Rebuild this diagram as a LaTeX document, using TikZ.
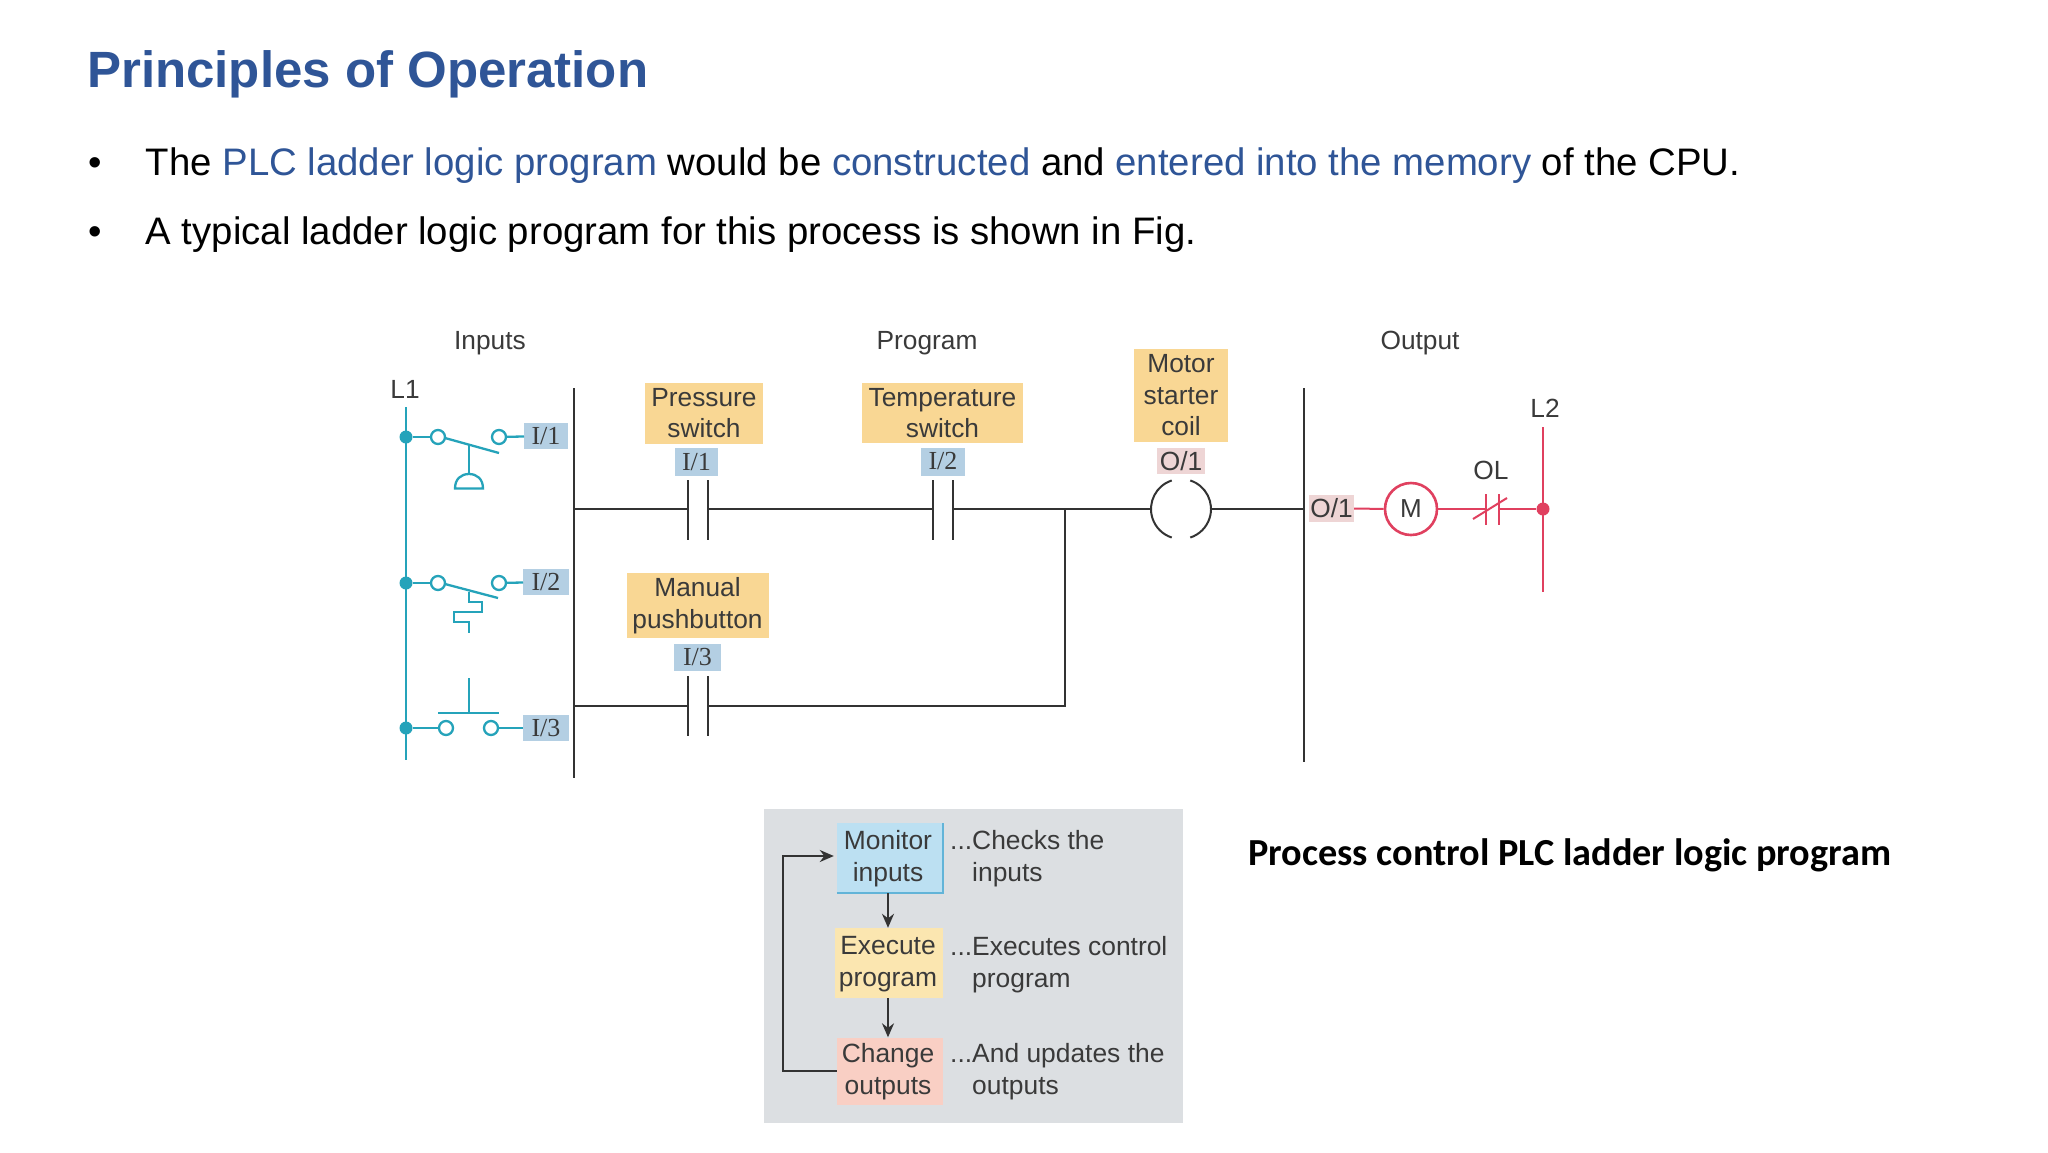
\documentclass[tikz,border=0pt]{standalone}
\usepackage{fontspec}
\setmainfont{Liberation Sans}
\newfontfamily\capfont{Carlito}
\newfontfamily\tagfont{Liberation Serif}
\usetikzlibrary{arrows.meta}
\definecolor{titleblue}{HTML}{2F5597}
\definecolor{inkblue}{HTML}{2F5597}
\definecolor{railteal}{HTML}{25A3BA}
\definecolor{wirered}{HTML}{E0405F}
\definecolor{labelorange}{HTML}{F9D794}
\definecolor{tagblue}{HTML}{B4CFE3}
\definecolor{tagpink}{HTML}{EED5D5}
\definecolor{panelgray}{HTML}{DCDFE2}
\definecolor{monitorblue}{HTML}{BCE0F2}
\definecolor{monitoredge}{HTML}{62B4D8}
\definecolor{execyellow}{HTML}{FBE6B0}
\definecolor{changepink}{HTML}{F9CFC4}
\definecolor{wireink}{HTML}{333333}
\definecolor{textink}{HTML}{3A3A3A}
\tikzset{
  x=1pt,y=-1pt,
  wire/.style={draw=wireink,line width=2pt},
  teal/.style={draw=railteal,line width=2.3pt},
  redwire/.style={draw=wirered,line width=2pt},
  lab/.style={font=\fontsize{26.3}{30}\selectfont,text=textink,inner sep=0pt,align=center},
  swatch/.style={inner sep=0pt,outer sep=0pt,text=textink,align=center,font=\fontsize{26.3}{31.5}\selectfont},
  tagb/.style={swatch,fill=tagblue,font=\fontsize{26}{30}\selectfont\tagfont},
  tagp/.style={swatch,fill=tagpink,font=\fontsize{26.3}{30}\selectfont},
  term/.style={circle,draw=railteal,line width=2.3pt,fill=white,minimum size=14pt,inner sep=0pt},
  dot/.style={circle,inner sep=0pt,minimum size=13pt},
  flowtxt/.style={inner sep=0pt,text=textink,font=\fontsize{26.4}{32}\selectfont},
  flowarrow/.style={wire,-{Stealth[length=14pt,width=12pt]}},
  bullet/.style={inner sep=0pt,anchor=base west,font=\fontsize{38.35}{44}\selectfont,text=black},
}
\newcommand{\hl}[1]{\textcolor{inkblue}{#1}}
\begin{document}
\begin{tikzpicture}
\useasboundingbox (0,0) rectangle (2048,1152);
\fill[white] (0,0) rectangle (2048,1152);
% heading
\node[inner sep=0pt,anchor=base west,text=titleblue,font=\fontsize{51}{56}\selectfont\bfseries] (title) at (87,87) {Principles of Operation};
\node[bullet] (b1) at (88,175) {•};
\node[bullet] (l1) at (145.5,175) {The \hl{PLC ladder logic program} would be \hl{constructed} and \hl{entered into the memory} of the CPU.};
\node[bullet] (b2) at (88,244.5) {•};
\node[bullet] (l2) at (145.5,244.5) {A typical ladder logic program for this process is shown in Fig.};
% section labels
\node[lab] (inp) at (490,343) {Inputs};
\node[lab] (prog) at (927,343) {Program};
\node[lab] (outp) at (1420,343) {Output};
\node[lab] (L1) at (405,389) {L1};
\node[lab] (L2) at (1545,408) {L2};
\node[lab] (OL) at (1491,470) {OL};
% rails
\coordinate (barAt) at (574,388); \coordinate (barAb) at (574,778);
\coordinate (barBt) at (1304,388); \coordinate (barBb) at (1304,762);
\draw[wire] (barAt) -- (barAb);
\draw[wire] (barBt) -- (barBb);
\coordinate (L1t) at (406,407); \coordinate (L1b) at (406,760);
\draw[teal] (L1t) -- (L1b);
\node[dot,fill=railteal] (j1) at (406,437) {};
\node[dot,fill=railteal] (j2) at (406,583) {};
\node[dot,fill=railteal] (j3) at (406,728) {};
% input tags
\node[tagb,minimum width=44pt,minimum height=26pt] (t1) at (546,436) {I/1};
\node[tagb,minimum width=46pt,minimum height=26pt] (t2) at (546,582) {I/2};
\node[tagb,minimum width=46pt,minimum height=26pt] (t3) at (546,728) {I/3};
% switch 1
\node[term] (c1a) at (438,437) {}; \node[term] (c1b) at (499,437) {};
\draw[teal] (j1) -- (c1a); \draw[teal] (c1b) -- (t1);
\coordinate (s1a) at (445,438); \coordinate (s1b) at (499,453); \coordinate (s1c) at (469,445);
\coordinate (s1d) at (469,474);
\draw[teal] (s1a) -- (s1b);
\draw[teal] (s1c) -- (s1d);
\draw[teal] (455,488.5) .. controls (455,479) and (461,474) .. (469,474) .. controls (477,474) and (483,479) .. (483,488.5) -- cycle;
% switch 2
\node[term] (c2a) at (438,583) {}; \node[term] (c2b) at (499,583) {};
\draw[teal] (j2) -- (c2a); \draw[teal] (c2b) -- (t2);
\draw[teal] (445,584) -- (498,598);
\draw[teal] (469,592) -- (469,602) -- (482,602) -- (482,612) -- (454,612) -- (454,622) -- (469,622) -- (469,633);
% switch 3
\node[term] (c3a) at (446,728) {}; \node[term] (c3b) at (491,728) {};
\draw[teal] (j3) -- (c3a); \draw[teal] (c3b) -- (t3);
\draw[teal,line width=2.8pt] (438,713) -- (499,713);
\draw[teal] (469,678) -- (469,713);
% program labels
\node[swatch,fill=labelorange,minimum width=118pt,minimum height=61pt] (ps) at (704,413) {Pressure\\switch};
\node[tagb,minimum width=43pt,minimum height=28pt] (i1) at (696.5,462) {I/1};
\node[swatch,fill=labelorange,minimum width=161pt,minimum height=60pt] (ts) at (942.5,413) {Temperature\\switch};
\node[tagb,minimum width=44pt,minimum height=28pt] (i2) at (943,461.5) {I/2};
\node[swatch,fill=labelorange,minimum width=142pt,minimum height=65pt] (mp) at (697.5,605.5) {Manual\\pushbutton};
\node[tagb,minimum width=47pt,minimum height=27pt] (i3) at (697.5,657) {I/3};
\node[swatch,fill=labelorange,minimum width=94pt,minimum height=93pt] (ms) at (1181,395.5) {Motor\\starter\\coil};
\node[tagp,minimum width=48pt,minimum height=26pt] (o1) at (1181,461) {O/1};
% contacts
\coordinate (p1l) at (688,510); \coordinate (p1r) at (708,510);
\coordinate (p2l) at (933,510); \coordinate (p2r) at (953,510);
\coordinate (p3l) at (688,706); \coordinate (p3r) at (708,706);
\foreach \c in {p1l,p1r,p2l,p2r,p3l,p3r}{\draw[wire] ([yshift=30pt]\c) -- ([yshift=-30pt]\c);}
\coordinate (railA) at (574,509); \coordinate (railB) at (574,706);
\coordinate (tee) at (1065,509); \coordinate (teeB) at (1065,706);
\node[inner sep=0pt,minimum size=60pt,circle] (coil) at (1181,509) {};
\draw[wire] (railA) -- (p1l |- railA);
\draw[wire] (p1r |- railA) -- (p2l |- railA);
\draw[wire] (p2r |- railA) -- (tee) -- (coil.west);
\draw[wire] (coil.east) -- (barBt |- coil.east);
\draw[wire] (railB) -- (p3l);
\draw[wire] (p3r) -- (teeB) -- (tee);
\draw[wire] ([shift={(108:30pt)}]coil.center) arc[start angle=108,end angle=252,radius=30pt];
\draw[wire] ([shift={(72:30pt)}]coil.center) arc[start angle=72,end angle=-72,radius=30pt];
% output
\node[tagp,minimum width=45pt,minimum height=27pt] (o2) at (1331.5,508.5) {O/1};
\node[circle,draw=wirered,line width=2.6pt,fill=white,minimum size=52pt,inner sep=0pt,text=textink,font=\fontsize{26}{30}\selectfont] (M) at (1411,509) {M};
\coordinate (L2t) at (1543,427); \coordinate (L2b) at (1543,592);
\node[dot,fill=wirered] (j4) at (1543,509) {};
\coordinate (olA) at (1486,509); \coordinate (olB) at (1499,509);
\draw[redwire] (L2t) -- (L2b);
\draw[redwire] (o2) -- (M);
\draw[redwire] (M) -- (olA);
\draw[redwire] (olB) -- (j4);
\draw[redwire,line width=2.6pt] ([yshift=15pt]olA) -- ([yshift=-16pt]olA);
\draw[redwire,line width=2.6pt] ([yshift=15pt]olB) -- ([yshift=-16pt]olB);
\draw[redwire] ([shift={(-13pt,-10pt)}]olA) -- ([shift={(8pt,11pt)}]olB);
% flow panel
\node[fill=panelgray,inner sep=0pt,minimum width=419pt,minimum height=314pt] (panel) at (973.5,966) {};
\node[fill=monitorblue,minimum width=106pt,minimum height=70pt,inner sep=0pt] (mon) at (890,858) {};
\draw[monitoredge,line width=2pt] (mon.south west) -- (mon.south east) -- (mon.north east);
\node[fill=execyellow,minimum width=108pt,minimum height=70pt,inner sep=0pt] (exe) at (889,963) {};
\node[fill=changepink,minimum width=106pt,minimum height=67pt,inner sep=0pt] (chg) at (890,1071) {};
\node[flowtxt,align=center] (mont) at (888,858.5) {Monitor\\inputs};
\node[flowtxt,align=center] (exet) at (888,964) {Execute\\program};
\node[flowtxt,align=center] (chgt) at (888,1072) {Change\\outputs};
\node[flowtxt,anchor=west,align=left] (d1) at (950,858.5) {...Checks the\\\phantom{...}inputs};
\node[flowtxt,anchor=west,align=left] (d2) at (950,965) {...Executes control\\\phantom{...}program};
\node[flowtxt,anchor=west,align=left] (d3) at (950,1072) {...And updates the\\\phantom{...}outputs};
\draw[flowarrow] (mon.south -| mont) -- (exe.north -| mont);
\draw[flowarrow] (exe.south -| mont) -- (chg.north -| mont);
\coordinate (loopB) at (783,1071); \coordinate (loopT) at (783,856);
\draw[flowarrow] (chg.west |- loopB) -- (loopB) -- (loopT) -- ([xshift=-3pt]mon.west |- loopT);
% caption
\node[inner sep=0pt,anchor=base west,font=\fontsize{38.25}{42}\selectfont\capfont\bfseries,text=black] (cap) at (1248,865) {Process control PLC ladder logic program};
\end{tikzpicture}
\end{document}
